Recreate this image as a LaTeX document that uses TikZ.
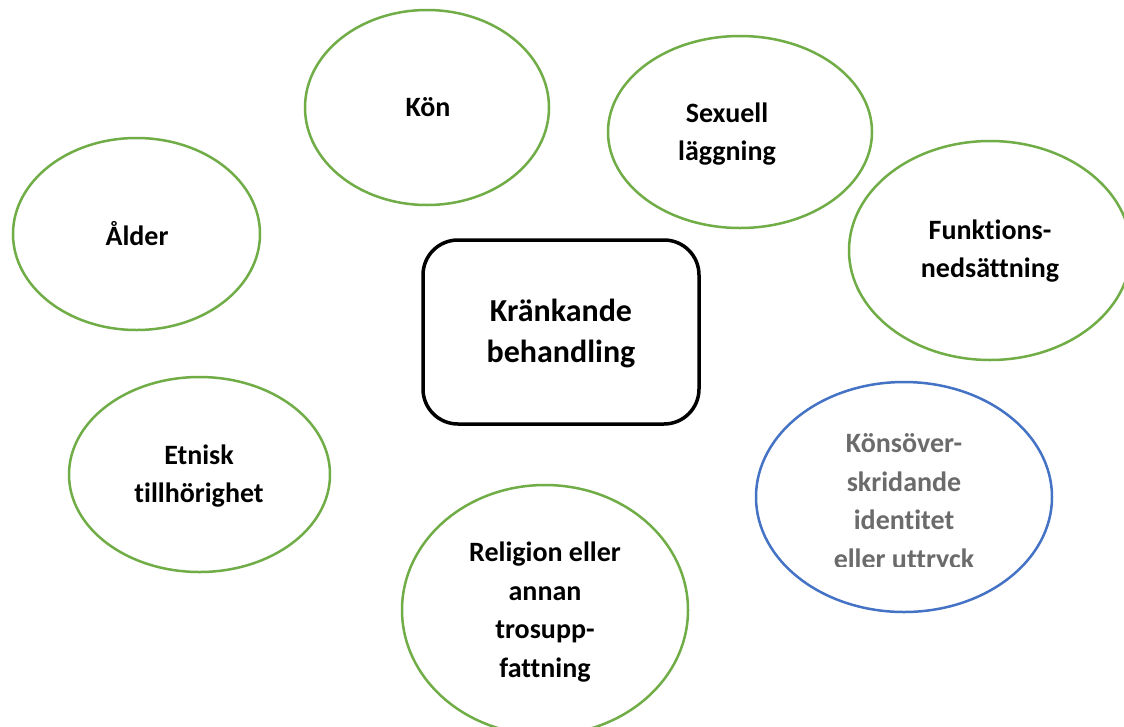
\documentclass[tikz,border=0pt]{standalone}
\usepackage{fontspec}
\setmainfont{Carlito}[Ligatures={NoCommon}]
\usetikzlibrary{shapes.geometric}
\definecolor{ogreen}{HTML}{70AD47}
\definecolor{oblue}{HTML}{4472C4}
\definecolor{tgray}{HTML}{6B6B6B}
\tikzset{
  lbl/.style={font=\bfseries\fontsize{28}{38.5}\selectfont, align=center, inner sep=0pt},
  biglbl/.style={font=\bfseries\fontsize{32}{41}\selectfont, align=center, inner sep=0pt},
  grov/.style={ellipse, draw=ogreen, line width=2.5pt, inner sep=0pt},
  blov/.style={ellipse, draw=oblue, line width=2.5pt, inner sep=0pt},
}
\begin{document}
\begin{tikzpicture}[x=1pt,y=-1pt]
\clip (0,0) rectangle (1124,726);
\fill[white] (0,0) rectangle (1124,726);
% center box
\node[draw=black, line width=3.5pt, rounded corners=35pt, minimum width=276pt, minimum height=184pt] (kb) at (561,332) {};
\node[biglbl] (kbT) at (561,333) {Kränkande\\behandling};
% ellipses
\node[grov, minimum width=244pt, minimum height=195pt] (kon) at (427,107.5) {};
\node[lbl] (konT) at (428,107) {Kön};
\node[grov, minimum width=247pt, minimum height=192pt] (alder) at (136.5,234) {};
\node[lbl] (alderT) at (137,234) {Ålder};
\node[grov, minimum width=264pt, minimum height=192pt] (sex) at (740,132) {};
\node[lbl] (sexT) at (727,134) {Sexuell\\läggning};
\node[grov, minimum width=282pt, minimum height=219pt] (funk) at (990,250.5) {};
\node[lbl] (funkT) at (990,251) {Funktions-\\nedsättning};
\node[grov, minimum width=261pt, minimum height=195pt] (etn) at (199.5,474.5) {};
\node[lbl] (etnT) at (199,476) {Etnisk\\tillhörighet};
\node[grov, minimum width=286pt, minimum height=250pt] (rel) at (545,610) {};
\node[lbl] (relT) at (545,612) {Religion eller\\annan\\trosupp-\\fattning};
\node[blov, minimum width=296pt, minimum height=230pt] (kons) at (904,497) {};
\begin{scope}
\clip (750,380) rectangle (1060,566.5);
\node[lbl, text=tgray] (konsT) at (904,503) {Könsöver-\\skridande\\identitet\\eller uttryck};
\end{scope}
\end{tikzpicture}
\end{document}
